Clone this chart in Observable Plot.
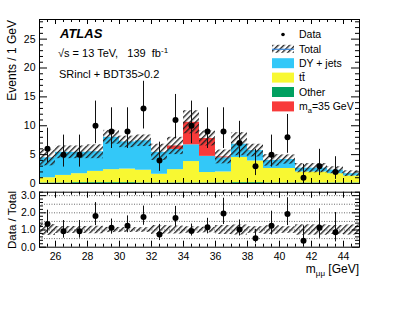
<!DOCTYPE html>
<html><head><meta charset="utf-8">
<script src="https://cdn.jsdelivr.net/npm/d3@7"></script>
<script src="https://cdn.jsdelivr.net/npm/@observablehq/plot@0.6"></script>
<style>
body{margin:0;background:#fff;}
#c{position:relative;width:399px;height:309px;font-family:"Liberation Sans",Arial,Helvetica,sans-serif;}
#c svg{position:absolute;left:0;}
</style></head><body><div id="c"></div>
<script>
// ---- data ----
const binLow = [25,26,27,28,29,30,31,32,33,34,35,36,37,38,39,40,41,42,43,44];
const other  = [0.1,0.1,0.15,0.15,0.15,0.15,0.1,0.1,0.1,0.1,0.1,0.1,0.15,0.15,0.1,0.1,0.1,0.1,0.1,0.1];
const ttbar  = [0.9,1.3,1.55,1.95,2.25,2.35,2.2,1.5,2.3,3.7,1.8,1.9,4.35,3.75,2.5,2.5,1.9,1.9,1.6,1.2];
const dyjets = [3.45,4.0,3.7,3.4,5.6,4.7,5.1,3.8,3.5,2.9,2.8,2.45,2.3,1.8,1.4,1.55,0.65,0.65,0.6,0.4];
const signal = [0,0,0,0,0,0,0,0,0.6,3.9,3.1,0.15,0,0,0,0,0,0,0,0];
const totalUnc = [1.4,1.1,1.1,1.2,1.2,1.0,1.0,1.4,1.5,2.0,1.3,1.2,2.0,1.1,1.0,0.8,0.8,0.8,0.6,0.5];
const dataCounts = [6,5,5,10,9,9,13,4,11,10,9,9,7,3,5,8,1,3,2,null];
const dataLow  = [3.62,2.84,2.84,6.89,6.06,6.06,9.44,2.09,7.73,6.89,6.06,6.06,4.42,1.37,2.84,5.23,0.17,1.37,0.71,null];
const dataHigh = [9.58,8.38,8.38,14.27,13.11,13.11,17.70,7.16,15.42,14.27,13.11,13.11,10.77,5.92,8.38,11.95,3.30,5.92,4.64,null];
const xTickLabels = [26,28,30,32,34,36,38,40,42,44];
const mainYTicks = [0,5,10,15,20,25];
const ratioYTicks = [0,1,2,3];
const ratioGrid = [0.5,1,1.5,2,2.5,3];

const colors = {other:"#00a060", tt:"#f8f832", dy:"#33c8f8", sig:"#f83a3a"};
const FONT = '"Liberation Sans",Arial,Helvetica,sans-serif';

const bins = binLow.map((lo,i)=>({lo, hi:lo+1, mid:lo+0.5, other:other[i], tt:ttbar[i], dy:dyjets[i], sig:signal[i],
  unc:totalUnc[i], n:dataCounts[i], nlo:dataLow[i], nhi:dataHigh[i]}));
bins.forEach(b=>{b.total=b.other+b.tt+b.dy+b.sig;});
const stack=[];
bins.forEach(b=>{let c=0; for(const k of ["other","tt","dy","sig"]){const v=b[k]; if(v>0) stack.push({lo:b.lo,hi:b.hi,y1:c,y2:c+v,fill:colors[k]}); c+=v;}});
const pts = bins.filter(b=>b.n!=null);

const ML=39, MR=40, W=399, FW=W-ML-MR;

function frameTicks(xMaj,xMin,yMaj,yMin,fh,xl,xs,yl,ys){
  const o={stroke:"#000",strokeWidth:1};
  return [
    Plot.tickX(xMaj,{x:d=>d,insetTop:fh-xl,...o}),
    Plot.tickX(xMaj,{x:d=>d,insetBottom:fh-xl,...o}),
    Plot.tickX(xMin,{x:d=>d,insetTop:fh-xs,...o}),
    Plot.tickX(xMin,{x:d=>d,insetBottom:fh-xs,...o}),
    Plot.tickY(yMaj,{y:d=>d,insetRight:FW-yl,...o}),
    Plot.tickY(yMaj,{y:d=>d,insetLeft:FW-yl,...o}),
    Plot.tickY(yMin,{y:d=>d,insetRight:FW-ys,...o}),
    Plot.tickY(yMin,{y:d=>d,insetLeft:FW-ys,...o})
  ];
}
const xMinor = d3.range(25,45.01,0.5).filter(v=>v%2!==0);
const xMajor = xTickLabels;

// ---- main panel ----
const mainH=186, mTop=19, mBot=3, mFH=mainH-mTop-mBot;
const main = Plot.plot({
  width:W, height:mainH, marginLeft:ML, marginRight:MR, marginTop:mTop, marginBottom:mBot,
  x:{domain:[25,45], axis:null},
  y:{domain:[0,28.4], axis:null},
  color:{type:"identity"},
  style:{fontFamily:FONT, fontSize:"10.5px", overflow:"visible", background:"transparent", color:"#000"},
  marks:[
    Plot.rect(stack,{x1:"lo",x2:"hi",y1:"y1",y2:"y2",fill:"fill"}),
    Plot.rect(bins,{x1:"lo",x2:"hi",y1:d=>d.total-d.unc,y2:d=>d.total+d.unc,fill:"url(#hatchMain)"}),
    Plot.ruleX(pts,{x:"mid",y1:"nlo",y2:"nhi",stroke:"#111",strokeWidth:1}),
    Plot.dot(pts,{x:"mid",y:"n",r:3,fill:"#000",stroke:"none"}),
    ...frameTicks(xMajor,xMinor,mainYTicks,d3.range(0,28.1,1).filter(v=>v%5!==0),mFH,5,3,8,4),
    Plot.axisY({ticks:mainYTicks,tickSize:0,tickPadding:4,label:null,fontSize:"10.5px"}),
    Plot.frame({stroke:"#000",strokeWidth:1})
  ]
});
main.style.top="0px";

// ---- ratio panel ----
const rTopPx=186, rH=123, rTop=5.7, rFH=55, rBot=rH-rTop-rFH;
const ratio = Plot.plot({
  width:W, height:rH, marginLeft:ML, marginRight:MR, marginTop:rTop, marginBottom:rBot,
  x:{domain:[25,45], axis:null},
  y:{domain:[0,3.2], axis:null},
  style:{fontFamily:FONT, fontSize:"10.5px", overflow:"visible", background:"transparent", color:"#000"},
  marks:[
    Plot.ruleY(ratioGrid,{y:d=>d,stroke:"#444",strokeWidth:0.8,strokeDasharray:"1,1.5"}),
    Plot.rect(bins,{x1:"lo",x2:"hi",y1:d=>1-d.unc/d.total,y2:d=>1+d.unc/d.total,fill:"url(#hatchRatio)"}),
    Plot.ruleX(pts,{x:"mid",y1:d=>d.nlo/d.total,y2:d=>Math.min(d.nhi/d.total,3.2),stroke:"#111",strokeWidth:1}),
    Plot.dot(pts,{x:"mid",y:d=>d.n/d.total,r:3,fill:"#000",stroke:"none"}),
    ...frameTicks(xMajor,xMinor,ratioYTicks,d3.range(0,3.21,0.2).filter(v=>Math.abs(v-Math.round(v))>1e-6),rFH,6,3,7,4),
    Plot.axisY({ticks:ratioYTicks,tickSize:0,tickPadding:4,label:null,fontSize:"10.5px"}),
    Plot.axisX({ticks:xTickLabels,tickSize:0,tickPadding:5,label:null,fontSize:"10.5px"}),
    Plot.frame({stroke:"#000",strokeWidth:1})
  ]
});
ratio.style.top=rTopPx+"px";

const c=document.getElementById("c");
c.appendChild(main); c.appendChild(ratio);

function addHatch(svg,id){
  const defs=d3.select(svg).insert("defs",":first-child");
  const p=defs.append("pattern").attr("id",id).attr("patternUnits","userSpaceOnUse")
    .attr("width",4).attr("height",4).attr("patternTransform","rotate(45)");
  p.append("line").attr("x1",0.7).attr("y1",0).attr("x2",0.7).attr("y2",4).attr("stroke","#222").attr("stroke-width",1.4);
}
addHatch(main,"hatchMain"); addHatch(ratio,"hatchRatio");

// ---- overlay: labels and legend ----
const ov=d3.select(c).append("svg").attr("width",W).attr("height",309).style("top","0px")
  .style("font-family",FONT).style("pointer-events","none");
addHatch(ov.node(),"hatchLeg");

ov.append("text").attr("x",60).attr("y",37.5).attr("font-size",13).attr("font-weight","bold").attr("font-style","italic").text("ATLAS");
const s=ov.append("text").attr("x",58).attr("y",57).attr("font-size",11).style("white-space","pre");
s.append("tspan").text("\u221As = 13 TeV,   139  fb");
s.append("tspan").attr("dy",-4).attr("font-size",8).text("-1");
ov.append("text").attr("x",59).attr("y",78).attr("font-size",11).text("SRincl + BDT35>0.2");

// axis titles
ov.append("text").attr("transform","translate(16,20) rotate(-90)").attr("text-anchor","end").attr("font-size",12).text("Events / 1 GeV");
ov.append("text").attr("transform","translate(16,191) rotate(-90)").attr("text-anchor","end").attr("font-size",11.5).text("Data / Total");
const xt=ov.append("text").attr("x",359).attr("y",273).attr("text-anchor","end").attr("font-size",12);
xt.append("tspan").text("m");
xt.append("tspan").attr("dy",3).attr("font-size",8).text("\u03BC\u03BC");
xt.append("tspan").attr("dy",-3).text(" [GeV]");

// legend
const legRows=[34.5,48.8,63.2,77.6,92,106.4];
const lx0=272, lw=22, lt=299, fs=10.5;
ov.append("circle").attr("cx",283).attr("cy",legRows[0]).attr("r",1.8).attr("fill","#000");
ov.append("rect").attr("x",lx0).attr("y",legRows[1]-4).attr("width",lw).attr("height",8).attr("fill","url(#hatchLeg)");
ov.append("line").attr("x1",lx0).attr("x2",lx0+lw).attr("y1",legRows[1]+0.5).attr("y2",legRows[1]+0.5).attr("stroke","#3a86d8").attr("stroke-width",1.2);
[["dy",2],["tt",3],["other",4],["sig",5]].forEach(([k,i])=>{
  ov.append("rect").attr("x",lx0).attr("y",legRows[i]-5).attr("width",lw).attr("height",10).attr("fill",colors[k]);
});
const labs=["Data","Total","DY + jets","tt\u0304","Other",null];
labs.forEach((t,i)=>{ if(t) ov.append("text").attr("x",lt).attr("y",legRows[i]+3.8).attr("font-size",fs).text(t); });
const ma=ov.append("text").attr("x",lt).attr("y",legRows[5]+3.8).attr("font-size",fs);
ma.append("tspan").text("m");
ma.append("tspan").attr("dy",2.5).attr("font-size",7.5).text("a");
ma.append("tspan").attr("dy",-2.5).text("=35 GeV");
</script></body></html>
